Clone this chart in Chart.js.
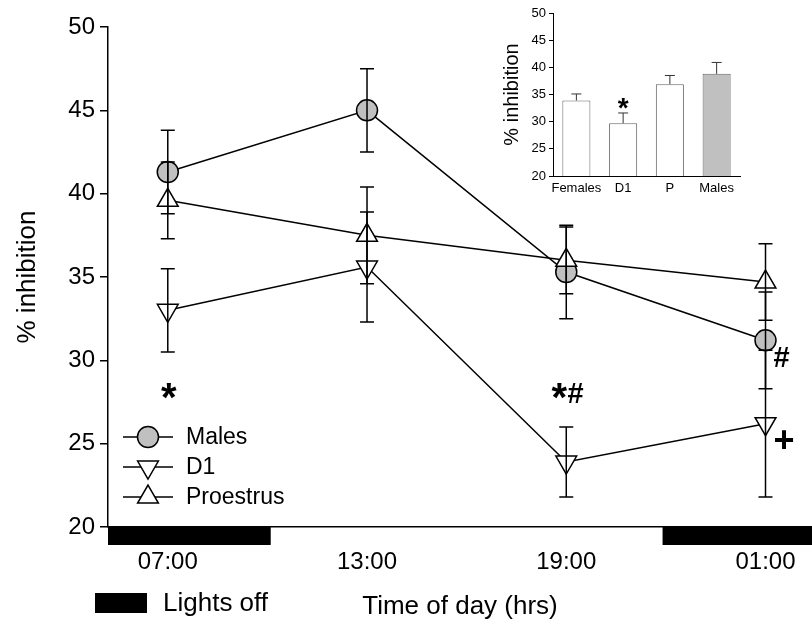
<!DOCTYPE html>
<html>
<head>
<meta charset="utf-8">
<script src="https://cdn.jsdelivr.net/npm/chart.js@4.4.1/dist/chart.umd.min.js"></script>
<style>
body { margin: 0; background: #fff; }
#wrap { position: relative; width: 812px; height: 627px; }
#main { position: absolute; left: 0; top: 0; }
#inset { position: absolute; left: 490px; top: 0; }
</style>
</head>
<body>
<div id="wrap">
  <canvas id="main" width="812" height="627"></canvas>
  <canvas id="inset" width="260" height="200"></canvas>
</div>
<script>
// main plot data (hour of day, 01:00 drawn as 25)
const hours = [7, 13, 19, 25];
const timeLabels = ["07:00", "13:00", "19:00", "01:00"];
const yTicks = [20, 25, 30, 35, 40, 45, 50];

const males = [41.3, 45.0, 35.3, 31.2];
const malesErr = [2.5, 2.5, 2.8, 2.9];
const d1 = [33.0, 35.6, 23.9, 26.2];
const d1Err = [2.5, 3.3, 2.1, 4.4];
const proestrus = [39.6, 37.5, 36.0, 34.7];
const proestrusErr = [2.3, 2.9, 2.0, 2.3];

// lights off periods, in hours
const lightsOff = [[5.2, 10.1], [21.9, 26.4]];

// significance marks: [text, hour, value]
const marks = [["*", 7.03, 27.62], ["*", 18.79, 27.62], ["#", 19.28, 27.9], ["#", 25.48, 30.1], ["+", 25.56, 25.07]];

// inset bar data
const insetGroups = ["Females", "D1", "P", "Males"];
const insetValues = [33.9, 29.7, 36.9, 38.8];
const insetErr = [1.2, 1.9, 1.6, 2.1];
const insetMarks = [["*", 1, 32.2]];

const FONT = "'Liberation Sans', Arial, sans-serif";
const markFonts = { "*": "bold 40px ", "#": "bold 29px ", "+": "bold 36px " };
Chart.defaults.font.family = FONT;
Chart.defaults.color = "#000";
Chart.defaults.animation = false;

function drawMarker(ctx, style, rot, bg, x, y, r) {
  ctx.save();
  ctx.fillStyle = bg;
  ctx.strokeStyle = "#000";
  ctx.lineWidth = 1.5;
  ctx.beginPath();
  if (style === "circle") {
    ctx.arc(x, y, r, 0, Math.PI * 2);
  } else {
    let a = rot * Math.PI / 180;
    for (let k = 0; k < 3; k++) {
      const px = x + Math.sin(a) * r, py = y - Math.cos(a) * r;
      if (k === 0) ctx.moveTo(px, py); else ctx.lineTo(px, py);
      a += Math.PI * 2 / 3;
    }
    ctx.closePath();
  }
  ctx.fill();
  ctx.stroke();
  ctx.restore();
}

const errorBars = {
  id: "errorBars",
  afterDatasetsDraw(chart) {
    const ctx = chart.ctx;
    const xs = chart.scales.x, ys = chart.scales.y;
    ctx.save();
    ctx.strokeStyle = "#000";
    ctx.lineWidth = 1.5;
    chart.data.datasets.forEach(ds => {
      ds.data.forEach((p, j) => {
        const x = xs.getPixelForValue(p.x);
        const top = ys.getPixelForValue(p.y + ds.errors[j]);
        const bot = ys.getPixelForValue(p.y - ds.errors[j]);
        ctx.beginPath();
        ctx.moveTo(x, top); ctx.lineTo(x, bot);
        ctx.moveTo(x - 7, top); ctx.lineTo(x + 7, top);
        ctx.moveTo(x - 7, bot); ctx.lineTo(x + 7, bot);
        ctx.stroke();
      });
    });
    ctx.restore();
  }
};

const extras = {
  id: "extras",
  afterDraw(chart) {
    const ctx = chart.ctx;
    const xs = chart.scales.x, ys = chart.scales.y;
    const area = chart.chartArea;
    ctx.save();
    // lights off bars under the axis
    ctx.fillStyle = "#000";
    lightsOff.forEach(p => {
      const x0 = xs.getPixelForValue(p[0]), x1 = xs.getPixelForValue(p[1]);
      ctx.fillRect(x0, area.bottom, x1 - x0, 18);
    });
    // lights off key
    ctx.fillRect(95, 593, 52, 20);
    ctx.font = "26px " + FONT;
    ctx.textBaseline = "middle";
    ctx.textAlign = "left";
    ctx.fillText("Lights off", 163, 604);

    // legend
    const order = [2, 1, 0];
    ctx.font = "23px " + FONT;
    order.forEach((di, k) => {
      const ds = chart.data.datasets[di];
      const y = 437 + k * 30;
      ctx.strokeStyle = "#000";
      ctx.lineWidth = 1.5;
      ctx.beginPath();
      ctx.moveTo(123, y); ctx.lineTo(173, y);
      ctx.stroke();
      drawMarker(ctx, ds.pointStyle, ds.rotation || 0, ds.pointBackgroundColor, 148, y, ds.pointRadius);
      ctx.fillStyle = "#000";
      ctx.fillText(ds.label, 186, y + 1);
    });

    // significance marks
    ctx.textAlign = "center";
    marks.forEach(m => {
      ctx.font = markFonts[m[0]] + FONT;
      ctx.fillText(m[0], xs.getPixelForValue(m[1]), ys.getPixelForValue(m[2]));
    });
    ctx.restore();
  }
};

new Chart(document.getElementById("main"), {
  type: "line",
  data: {
    datasets: [
      { label: "Proestrus", data: proestrus.map((v, i) => ({ x: hours[i], y: v })), errors: proestrusErr,
        pointStyle: "triangle", rotation: 0, pointRadius: 12, pointBackgroundColor: "#fff", order: 0 },
      { label: "D1", data: d1.map((v, i) => ({ x: hours[i], y: v })), errors: d1Err,
        pointStyle: "triangle", rotation: 180, pointRadius: 12, pointBackgroundColor: "#fff", order: 1 },
      { label: "Males", data: males.map((v, i) => ({ x: hours[i], y: v })), errors: malesErr,
        pointStyle: "circle", pointRadius: 10.5, pointBackgroundColor: "#c0c0c0", order: 2 }
    ].map(ds => Object.assign(ds, {
      borderColor: "#000", borderWidth: 1.5, pointBorderColor: "#000", pointBorderWidth: 1.5,
      pointHoverRadius: ds.pointRadius, tension: 0, fill: false, clip: false
    }))
  },
  options: {
    responsive: false,
    devicePixelRatio: 1,
    layout: { autoPadding: false, padding: { top: 27, right: 0, left: 0, bottom: 0 } },
    plugins: { legend: { display: false }, tooltip: { enabled: false } },
    scales: {
      x: {
        type: "linear", min: 5.2, max: 26.4,
        afterBuildTicks: s => { s.ticks = hours.map(v => ({ value: v })); },
        afterFit: s => { s.height = 100; s.paddingLeft = 0; s.paddingRight = 0; },
        ticks: { callback: (v, i) => timeLabels[i], font: { size: 24 }, padding: 21, autoSkip: false, maxRotation: 0 },
        grid: { display: false, drawTicks: false },
        border: { color: "#000", width: 1.5 },
        title: { display: true, text: "Time of day (hrs)", font: { size: 26 }, padding: { top: 0, bottom: 5 } }
      },
      y: {
        min: 20, max: 50,
        afterBuildTicks: s => { s.ticks = yTicks.map(v => ({ value: v })); },
        afterFit: s => { s.width = 108; },
        ticks: { font: { size: 24 }, padding: 5 },
        grid: { drawOnChartArea: false, tickLength: 8, color: "#000", lineWidth: 1.5 },
        border: { color: "#000", width: 1.5 },
        title: { display: true, text: "% inhibition", font: { size: 26 }, padding: { top: 12 } }
      }
    }
  },
  plugins: [errorBars, extras]
});

const insetExtras = {
  id: "insetExtras",
  afterDatasetsDraw(chart) {
    const ctx = chart.ctx;
    const xs = chart.scales.x, ys = chart.scales.y;
    ctx.save();
    ctx.strokeStyle = "#333";
    ctx.lineWidth = 1;
    insetValues.forEach((v, j) => {
      const x = xs.getPixelForValue(j);
      const top = ys.getPixelForValue(v + insetErr[j]);
      const bot = ys.getPixelForValue(v);
      ctx.beginPath();
      ctx.moveTo(x, bot); ctx.lineTo(x, top);
      ctx.moveTo(x - 5, top); ctx.lineTo(x + 5, top);
      ctx.stroke();
    });
    ctx.fillStyle = "#000";
    ctx.font = "bold 28px " + FONT;
    ctx.textAlign = "center";
    ctx.textBaseline = "middle";
    insetMarks.forEach(m => ctx.fillText(m[0], xs.getPixelForValue(m[1]), ys.getPixelForValue(m[2])));
    ctx.restore();
  }
};

new Chart(document.getElementById("inset"), {
  type: "bar",
  data: {
    labels: insetGroups,
    datasets: [{
      data: insetValues,
      backgroundColor: ["#fff", "#fff", "#fff", "#c0c0c0"],
      borderColor: "#666",
      borderWidth: 1,
      borderSkipped: "bottom",
      barPercentage: 0.6,
      categoryPercentage: 1
    }]
  },
  options: {
    responsive: false,
    devicePixelRatio: 1,
    layout: { autoPadding: false, padding: { top: 13, right: 10, left: 0, bottom: 0 } },
    plugins: { legend: { display: false }, tooltip: { enabled: false } },
    scales: {
      x: {
        afterFit: s => { s.height = 24; s.paddingLeft = 0; s.paddingRight = 0; },
        ticks: { font: { size: 13 }, padding: 5, maxRotation: 0, minRotation: 0, autoSkip: false },
        grid: { display: false, drawTicks: false },
        border: { color: "#000", width: 1 }
      },
      y: {
        min: 20, max: 50,
        afterBuildTicks: s => { s.ticks = yTicks.map(v => ({ value: v })); },
        afterFit: s => { s.width = 63; },
        ticks: { font: { size: 13 }, padding: 3 },
        grid: { drawOnChartArea: false, tickLength: 4, color: "#000" },
        border: { color: "#000", width: 1 },
        title: { display: true, text: "% inhibition", font: { size: 20 }, padding: { top: 10 } }
      }
    }
  },
  plugins: [insetExtras]
});
</script>
</body>
</html>
